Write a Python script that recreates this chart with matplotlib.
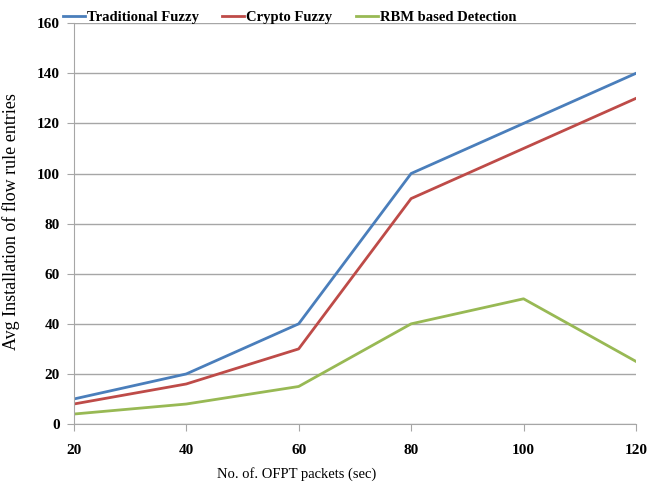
import matplotlib.pyplot as plt

# x: number of OFPT packets, y: avg installation of flow rule entries
packets = [20, 40, 60, 80, 100, 120]
traditional_fuzzy = [10, 20, 40, 100, 120, 140]
crypto_fuzzy = [8, 16, 30, 90, 110, 130]
rbm_detection = [4, 8, 15, 40, 50, 25]

plt.rcParams['font.family'] = ['Liberation Serif', 'DejaVu Serif']

fig = plt.figure(figsize=(6.47, 4.83), dpi=100)
ax = fig.add_axes([0.114, 0.122, 0.869, 0.830])

ax.plot(packets, traditional_fuzzy, color='#4A7EBB', lw=2, label='Traditional Fuzzy')
ax.plot(packets, crypto_fuzzy, color='#BE4B48', lw=2, label='Crypto Fuzzy')
ax.plot(packets, rbm_detection, color='#98B954', lw=2, label='RBM based Detection')

ax.set_xlim(20, 120)
ax.set_ylim(0, 160)
ax.set_xticks(packets)
ax.set_yticks(range(0, 161, 20))
ax.yaxis.grid(True, color='#A6A6A6', lw=1)
ax.set_axisbelow(True)

for s in ['top', 'right']:
    ax.spines[s].set_visible(False)
for s in ['left', 'bottom']:
    ax.spines[s].set_color('#A6A6A6')
ax.tick_params(axis='both', colors='#A6A6A6', length=5, labelcolor='black',
               labelsize=11)
ax.tick_params(axis='y', pad=5)
ax.tick_params(axis='x', pad=9)
for lbl in ax.get_xticklabels() + ax.get_yticklabels():
    lbl.set_fontweight('bold')

ax.set_xlabel('No. of. OFPT packets (sec)', fontsize=10.5)
ax.set_ylabel('Avg Installation of flow rule entries', fontsize=13)
ax.xaxis.set_label_coords(0.397, -0.107)
ax.yaxis.set_label_coords(-0.096, 0.504)

fig.legend(loc='upper left', bbox_to_anchor=(0.097, 0.977), ncol=3,
           frameon=False, borderpad=0, borderaxespad=0,
           handlelength=1.5, handletextpad=0.15, columnspacing=1.6,
           prop={'weight': 'bold', 'size': 10.5})

fig.savefig('out.png', dpi=100)
